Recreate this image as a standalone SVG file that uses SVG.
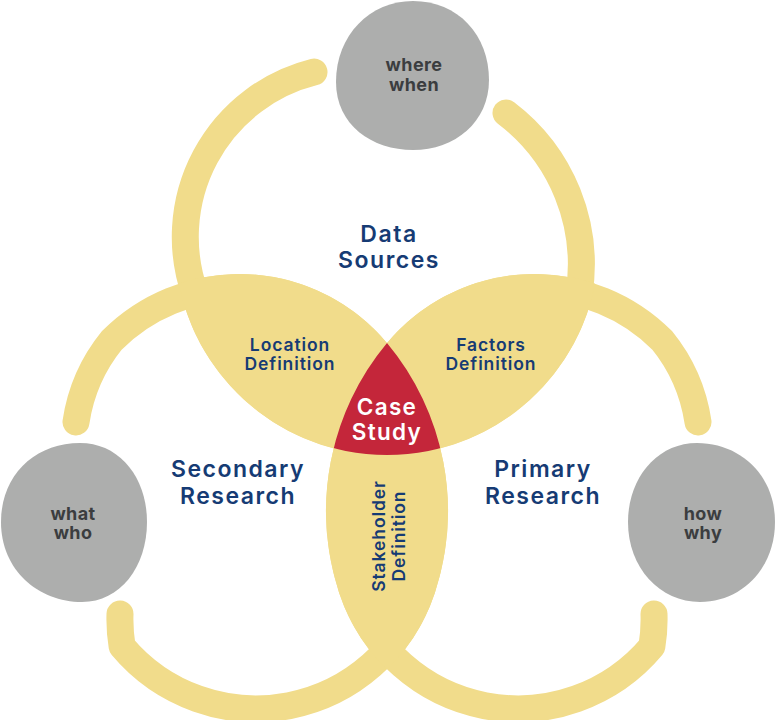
<svg xmlns="http://www.w3.org/2000/svg" width="775" height="720" viewBox="0 0 775 720">
<style>
.ring{fill:none;stroke:#f1dc8b;stroke-width:27;stroke-linecap:round;stroke-linejoin:round}
.lens{fill:#f1dc8b}
.core{fill:#c4263a}
.blob{fill:#adaead}
.t{font-family:Inter,"Noto Sans","DejaVu Sans",sans-serif;font-weight:600;text-anchor:middle}
.big{font-size:23px;fill:#163b74;letter-spacing:1.5px}
.mid{font-size:17.5px;fill:#163b74;letter-spacing:0.9px}
.q{font-size:18px;font-weight:700;fill:#3b3d3f;letter-spacing:0.4px}
.cs{font-size:22.5px;fill:#ffffff;letter-spacing:1.3px}
</style>
<defs>
<clipPath id="cT"><circle cx="387" cy="243" r="212"/></clipPath>
<clipPath id="cL"><path d="M 46 467 A 193 193 0 0 1 387 343.1 A 262 262 0 0 1 434.9 592.7 A 188.3 188.3 0 0 1 67.7 534 Z"/></clipPath>
<clipPath id="cR"><path d="M 728 467 A 193 193 0 0 0 387 343.1 A 262 262 0 0 0 339.1 592.7 A 188.3 188.3 0 0 0 706.3 534 Z"/></clipPath>
</defs>
<rect width="775" height="720" fill="#ffffff"/>
<g id="rings">
<path id="ring-data-sources" class="ring" d="M 506 113 A 190 190 0 0 1 579 294 A 198.5 198.5 0 0 1 195.3 294.4 A 170 170 0 0 1 314 72"/>
<path id="ring-secondary" class="ring" d="M 76 422 A 170 170 0 0 1 112.1 340.1 A 179.5 179.5 0 0 1 376.7 351.8 A 248.5 248.5 0 0 1 422.1 588.5 A 174.8 174.8 0 0 1 122.1 646.4 A 165 165 0 0 1 120 614"/>
<path id="ring-primary" class="ring" d="M 698 422 A 170 170 0 0 0 661.9 340.1 A 179.5 179.5 0 0 0 397.3 351.8 A 248.5 248.5 0 0 0 351.9 588.5 A 174.8 174.8 0 0 0 651.9 646.4 A 165 165 0 0 0 654 614"/>
</g>
<g id="location-definition">
<path class="lens" clip-path="url(#cT)" d="M 46 467 A 193 193 0 0 1 387 343.1 A 262 262 0 0 1 434.9 592.7 A 188.3 188.3 0 0 1 67.7 534 Z"/>
<text class="t mid"><tspan x="290" y="350.5">Location</tspan><tspan x="290" y="369.8">Definition</tspan></text>
</g>
<g id="factors-definition">
<path class="lens" clip-path="url(#cT)" d="M 728 467 A 193 193 0 0 0 387 343.1 A 262 262 0 0 0 339.1 592.7 A 188.3 188.3 0 0 0 706.3 534 Z"/>
<text class="t mid"><tspan x="491" y="350.5">Factors</tspan><tspan x="491" y="369.8">Definition</tspan></text>
</g>
<g id="stakeholder-definition">
<path class="lens" clip-path="url(#cL)" d="M 728 467 A 193 193 0 0 0 387 343.1 A 262 262 0 0 0 339.1 592.7 A 188.3 188.3 0 0 0 706.3 534 Z"/>
<text class="t mid" transform="translate(385 536) rotate(-90)"><tspan x="0" y="0">Stakeholder</tspan><tspan x="0" y="20">Definition</tspan></text>
</g>
<g id="case-study">
<g clip-path="url(#cL)"><path class="core" clip-path="url(#cT)" d="M 728 467 A 193 193 0 0 0 387 343.1 A 262 262 0 0 0 339.1 592.7 A 188.3 188.3 0 0 0 706.3 534 Z"/></g>
<text class="t cs"><tspan x="387" y="415">Case</tspan><tspan x="387" y="440">Study</tspan></text>
</g>
<g id="data-sources">
<text class="t big"><tspan x="389" y="241.5">Data</tspan><tspan x="389" y="268">Sources</tspan></text>
</g>
<g id="secondary-research">
<text class="t big"><tspan x="238" y="477">Secondary</tspan><tspan x="238" y="503.5">Research</tspan></text>
</g>
<g id="primary-research">
<text class="t big"><tspan x="543" y="477">Primary</tspan><tspan x="543" y="503.5">Research</tspan></text>
</g>
<g id="where-when">
<path class="blob" d="M 413 1 C 458 1 489 35 489 80 C 489 122 455 150 413 150 C 372 150 336 125 336 82 C 336 35 370 1 413 1 Z"/>
<text class="t q"><tspan x="414" y="71">where</tspan><tspan x="414" y="91">when</tspan></text>
</g>
<g id="what-who">
<path class="blob" d="M 80 443 C 120 443 147 478 147 522 C 147 567 120 602 82 602 C 38 602 1 570 1 522 C 1 475 35 443 80 443 Z"/>
<text class="t q"><tspan x="73" y="520">what</tspan><tspan x="73" y="539">who</tspan></text>
</g>
<g id="how-why">
<path class="blob" d="M 697 443 C 740 443 775 475 775 522 C 775 568 742 602 700 602 C 660 602 628 568 628 522 C 628 478 657 443 697 443 Z"/>
<text class="t q"><tspan x="703" y="520">how</tspan><tspan x="703" y="539">why</tspan></text>
</g>
</svg>
